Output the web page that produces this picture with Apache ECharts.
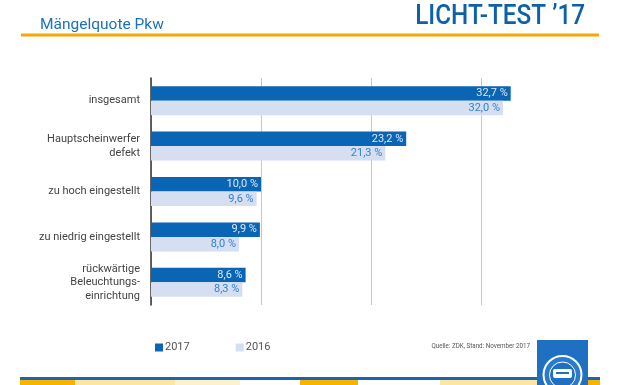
<!DOCTYPE html>
<html><head><meta charset="utf-8">
<script src="https://cdn.jsdelivr.net/npm/echarts@6/dist/echarts.min.js"></script>
<style>html,body{margin:0;padding:0;background:#fff}#c{width:620px;height:385px}</style>
</head><body><div id="c"></div>
<script>
const categories = ['insgesamt', 'Hauptscheinwerfer\ndefekt', 'zu hoch eingestellt', 'zu niedrig eingestellt', 'rückwärtige\nBeleuchtungs-\neinrichtung'];
const values2017 = [32.7, 23.2, 10.0, 9.9, 8.6];
const values2016 = [32.0, 21.3, 9.6, 8.0, 8.3];
const seriesNames = ['2017', '2016'];
const xTicks = [0, 10, 20, 30, 40];

const FONT = 'Roboto, "DejaVu Sans", sans-serif';
const fmt = p => p.value.toFixed(1).replace('.', ',') + ' %';

const chart = echarts.init(document.getElementById('c'), null, {renderer: 'canvas'});
chart.setOption({
  animation: false,
  textStyle: {fontFamily: FONT},
  title: [
    {text: 'Mängelquote Pkw', left: 35, top: 12,
     textStyle: {fontSize: 15.5, fontWeight: 'normal', color: '#1a72bb', fontFamily: FONT}}
  ],
  legend: {
    left: 150, top: 337, itemWidth: 8, itemHeight: 8, itemGap: 46, icon: 'rect',
    textStyle: {fontSize: 11, color: '#555', padding: [0, 0, 0, -3]},
    data: seriesNames
  },
  grid: {left: 151, right: 29, top: 78, bottom: 80},
  xAxis: {
    type: 'value', min: xTicks[0], max: xTicks[xTicks.length - 1], interval: 10,
    axisLabel: {show: false}, axisLine: {show: false}, axisTick: {show: false},
    splitLine: {show: true, lineStyle: {color: ['#c8c8c8', '#c8c8c8', '#c8c8c8', '#c8c8c8', 'rgba(0,0,0,0)'], width: 1}}
  },
  yAxis: {
    type: 'category', inverse: true, data: categories,
    axisLine: {show: true, lineStyle: {color: '#333', width: 1.5}},
    axisTick: {show: false},
    axisLabel: {fontSize: 11, color: '#444', margin: 11, lineHeight: 13.5, align: 'right'}
  },
  series: [
    {name: seriesNames[0], type: 'bar', data: values2017, barWidth: 14.5, barGap: '0%',
     itemStyle: {color: '#0a65b5'},
     label: {show: true, position: 'insideRight', distance: 3, formatter: fmt, fontSize: 11, color: '#dce8f6'}},
    {name: seriesNames[1], type: 'bar', data: values2016, barWidth: 14.5, barGap: '0%',
     itemStyle: {color: '#d6def1'},
     label: {show: true, position: 'insideRight', distance: 3, formatter: fmt, fontSize: 11, color: '#2f84d2'}}
  ],
  graphic: [
    {type: 'text', x: 585, y: 4, scaleX: 0.9, style: {text: 'LICHT-TEST ’17', fontSize: 27, fontWeight: 500, fill: '#0e60aa', fontFamily: FONT, align: 'right'}},
    {type: 'rect', shape: {x: 21, y: 33.5, width: 578, height: 3}, style: {fill: '#f5a800'}},
    {type: 'text', x: 530, y: 343, scaleX: 0.92, style: {text: 'Quelle: ZDK, Stand: November 2017', fontSize: 6.8, fill: '#555', fontFamily: FONT, align: 'right'}},
    {type: 'rect', shape: {x: 20, y: 377, width: 580, height: 3}, style: {fill: '#1a65b0'}},
    {type: 'rect', shape: {x: 20, y: 380, width: 55, height: 5}, style: {fill: '#f6b400'}},
    {type: 'rect', shape: {x: 75, y: 380, width: 100, height: 5}, style: {fill: '#fde6a2'}},
    {type: 'rect', shape: {x: 175, y: 380, width: 65, height: 5}, style: {fill: '#fdf1cc'}},
    {type: 'rect', shape: {x: 300, y: 380, width: 58, height: 5}, style: {fill: '#f6b400'}},
    {type: 'rect', shape: {x: 440, y: 380, width: 97, height: 5}, style: {fill: '#fde6a2'}},
    {type: 'rect', shape: {x: 588, y: 380, width: 12, height: 5}, style: {fill: '#f6b400'}},
    {type: 'rect', shape: {x: 537, y: 340, width: 51, height: 45}, style: {fill: '#1f70c2'}},
    {type: 'circle', shape: {cx: 562.5, cy: 375, r: 19}, style: {fill: '#2a7bcc', stroke: '#fff', lineWidth: 2}},
    {type: 'circle', shape: {cx: 562.5, cy: 375, r: 13}, style: {fill: '#1f70c2', stroke: '#fff', lineWidth: 1}},
    {type: 'rect', shape: {x: 553, y: 369, width: 19, height: 9, r: 2}, style: {fill: '#fff'}},
    {type: 'rect', shape: {x: 556, y: 372, width: 13, height: 2}, style: {fill: '#1f70c2'}}
  ]
});
</script></body></html>
